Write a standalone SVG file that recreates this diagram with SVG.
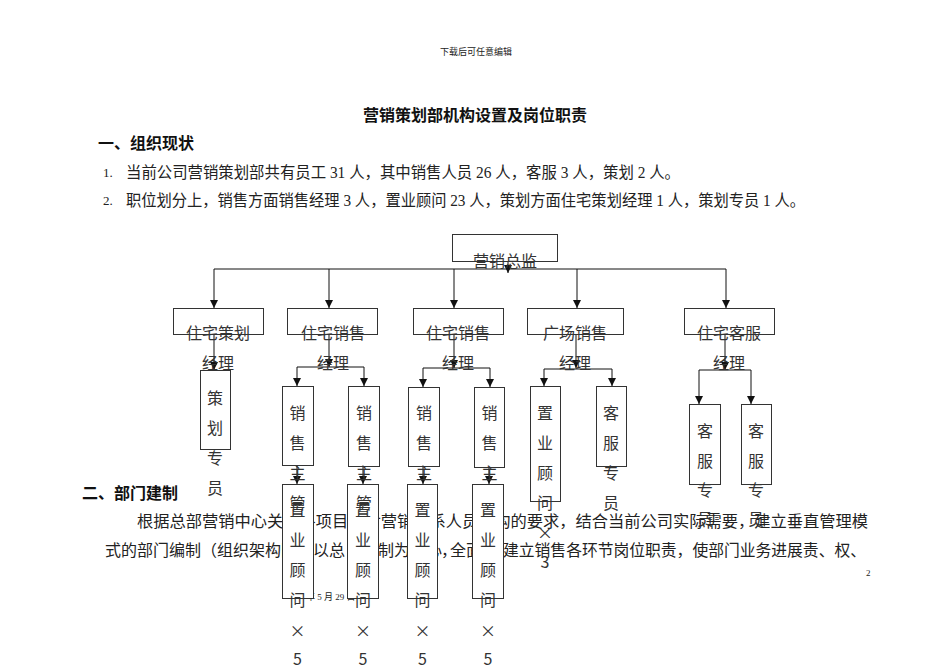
<svg xmlns="http://www.w3.org/2000/svg" width="950" height="672" viewBox="0 0 950 672">
<style>
.t{font-family:"Noto Sans CJK SC","Noto Sans",sans-serif;fill:#222}
.b{font-family:"Noto Sans CJK SC","Noto Sans",sans-serif;font-weight:bold;fill:#111}
.s{font-family:"Liberation Serif","Noto Sans CJK SC",serif;fill:#222}
.n{font-family:"Noto Sans CJK SC","Noto Sans",sans-serif;font-size:16px;fill:#333;text-anchor:middle}
.box{fill:#fff;stroke:#333;stroke-width:1}
.c{stroke:#111;stroke-width:1;fill:none}
.a{marker-end:url(#ah)}
</style>
<defs>
<marker id="ah" markerUnits="userSpaceOnUse" markerWidth="8" markerHeight="8" refX="8" refY="4" orient="auto">
<path d="M0,0 L8,4 L0,8 z" fill="#111"/>
</marker>
</defs>
<rect width="950" height="672" fill="#fff"/>

<g id="page-text">
<text class="s" x="476" y="55" font-size="9" text-anchor="middle">下载后可任意编辑</text>
<text class="b" x="475" y="121" font-size="16" text-anchor="middle">营销策划部机构设置及岗位职责</text>
<text class="b" x="98" y="149" font-size="16">一、组织现状</text>
<text class="s" x="103" y="177" font-size="13">1.</text>
<text class="s" x="126" y="178" font-size="16" textLength="554" lengthAdjust="spacingAndGlyphs">当前公司营销策划部共有员工 31 人，其中销售人员 26 人，客服 3 人，策划 2 人。</text>
<text class="s" x="103" y="205" font-size="13">2.</text>
<text class="s" x="126" y="206" font-size="16" textLength="679" lengthAdjust="spacingAndGlyphs">职位划分上，销售方面销售经理 3 人，置业顾问 23 人，策划方面住宅策划经理 1 人，策划专员 1 人。</text>
<text class="b" x="82" y="499" font-size="16">二、部门建制</text>
<text class="t" x="137" y="527" font-size="16" textLength="731" lengthAdjust="spacingAndGlyphs">根据总部营销中心关于各项目部对营销体系人员架构的要求，结合当前公司实际需要，建立垂直管理模</text>
<text class="t" y="556" font-size="16"><tspan x="105">式的部门编制（组织架构图）以总</tspan><tspan x="349" textLength="26" lengthAdjust="spacingAndGlyphs">监负责</tspan><tspan x="378">制为核心</tspan><tspan x="441">，</tspan><tspan x="450">全面</tspan><tspan x="503" textLength="363" lengthAdjust="spacingAndGlyphs">建立销售各环节岗位职责，使部门业务进展责、权、</tspan></text>
<text class="s" x="306" y="600" font-size="9">年 5 月 29 日</text>
<text class="s" x="866" y="576" font-size="9">2</text>
</g>

<g id="connectors">
<line class="c a" x1="508" y1="261" x2="508" y2="273"/>
<line class="c" x1="214" y1="269" x2="726" y2="269"/>
<line class="c a" x1="214" y1="269" x2="214" y2="308"/>
<line class="c a" x1="329" y1="269" x2="329" y2="308"/>
<line class="c a" x1="454" y1="269" x2="454" y2="308"/>
<line class="c a" x1="577" y1="269" x2="577" y2="308"/>
<line class="c a" x1="726" y1="269" x2="726" y2="308"/>
<line class="c a" x1="214" y1="335" x2="214" y2="370"/>
<line class="c a" x1="329" y1="335" x2="329" y2="367"/>
<line class="c" x1="297" y1="367" x2="364" y2="367"/>
<line class="c a" x1="297" y1="367" x2="297" y2="386"/>
<line class="c a" x1="364" y1="367" x2="364" y2="386"/>
<line class="c a" x1="454" y1="335" x2="454" y2="368"/>
<line class="c" x1="423" y1="368" x2="490" y2="368"/>
<line class="c a" x1="423" y1="368" x2="423" y2="387"/>
<line class="c a" x1="490" y1="368" x2="490" y2="387"/>
<line class="c a" x1="576" y1="335" x2="576" y2="368"/>
<line class="c" x1="544" y1="369" x2="612" y2="369"/>
<line class="c a" x1="544" y1="369" x2="544" y2="386"/>
<line class="c a" x1="612" y1="369" x2="612" y2="386"/>
<line class="c a" x1="725" y1="335" x2="725" y2="370"/>
<line class="c" x1="699" y1="370" x2="751" y2="370"/>
<line class="c a" x1="699" y1="370" x2="699" y2="404"/>
<line class="c a" x1="751" y1="370" x2="751" y2="404"/>
<line class="c a" x1="297" y1="466" x2="297" y2="484"/>
<line class="c a" x1="363" y1="466" x2="363" y2="484"/>
<line class="c a" x1="423" y1="467" x2="423" y2="484"/>
<line class="c a" x1="489" y1="467" x2="489" y2="484"/>
</g>

<g id="n-director">
<rect class="box" x="452.5" y="234.5" width="105" height="27"/>
<text class="n" x="505" y="267">营销总监</text>
</g>
<g id="n-plan-mgr">
<rect class="box" x="173.5" y="308.5" width="90" height="26"/>
<text class="n" x="218" y="339">住宅策划</text>
<text class="n" x="218" y="369">经理</text>
</g>
<g id="n-sales-mgr-1">
<rect class="box" x="287.5" y="308.5" width="90" height="26"/>
<text class="n" x="333" y="339">住宅销售</text>
<text class="n" x="333" y="369">经理</text>
</g>
<g id="n-sales-mgr-2">
<rect class="box" x="413.5" y="308.5" width="90" height="26"/>
<text class="n" x="458" y="339">住宅销售</text>
<text class="n" x="458" y="369">经理</text>
</g>
<g id="n-plaza-mgr">
<rect class="box" x="527.5" y="308.5" width="96" height="26"/>
<text class="n" x="575" y="339">广场销售</text>
<text class="n" x="575" y="369">经理</text>
</g>
<g id="n-cs-mgr">
<rect class="box" x="684.5" y="308.5" width="90" height="26"/>
<text class="n" x="729" y="339">住宅客服</text>
<text class="n" x="729" y="369">经理</text>
</g>

<g id="n-plan-staff">
<rect class="box" x="200.5" y="370.5" width="30" height="79"/>
<text class="n" x="215" y="404">策</text>
<text class="n" x="215" y="434">划</text>
<text class="n" x="215" y="464">专</text>
<text class="n" x="215" y="494">员</text>
</g>

<g id="n-consultant-1">
<rect class="box" x="282.5" y="484.5" width="31" height="114"/>
<text class="n" x="297.5" y="516">置</text>
<text class="n" x="297.5" y="546">业</text>
<text class="n" x="297.5" y="576">顾</text>
<text class="n" x="297.5" y="606">问</text>
<text class="n" x="297.5" y="637">×</text>
<text class="n" x="297.5" y="665">5</text>
</g>
<g id="n-consultant-2">
<rect class="box" x="347.5" y="484.5" width="31" height="114"/>
<text class="n" x="363" y="516">置</text>
<text class="n" x="363" y="546">业</text>
<text class="n" x="363" y="576">顾</text>
<text class="n" x="363" y="606">问</text>
<text class="n" x="363" y="637">×</text>
<text class="n" x="363" y="665">5</text>
</g>
<g id="n-sales-sup-1">
<rect class="box" x="282.5" y="386.5" width="31" height="79"/>
<text class="n" x="297.5" y="419">销</text>
<text class="n" x="297.5" y="449">售</text>
<text class="n" x="297.5" y="479">主</text>
<text class="n" x="297.5" y="509">管</text>
</g>
<g id="n-sales-sup-2">
<rect class="box" x="348.5" y="386.5" width="31" height="80"/>
<text class="n" x="364" y="419">销</text>
<text class="n" x="364" y="449">售</text>
<text class="n" x="364" y="479">主</text>
<text class="n" x="364" y="509">管</text>
</g>
<g id="n-sales-sup-3">
<rect class="box" x="408.5" y="387.5" width="31" height="79"/>
<text class="n" x="424" y="419">销</text>
<text class="n" x="424" y="449">售</text>
<text class="n" x="424" y="479">主</text>
<text class="n" x="424" y="509">管</text>
</g>
<g id="n-sales-sup-4">
<rect class="box" x="474.5" y="387.5" width="30" height="80"/>
<text class="n" x="489.5" y="419">销</text>
<text class="n" x="489.5" y="449">售</text>
<text class="n" x="489.5" y="479">主</text>
<text class="n" x="489.5" y="509">管</text>
</g>
<g id="n-consultant-3">
<rect class="box" x="407.5" y="484.5" width="30" height="114"/>
<text class="n" x="422.5" y="516">置</text>
<text class="n" x="422.5" y="546">业</text>
<text class="n" x="422.5" y="576">顾</text>
<text class="n" x="422.5" y="606">问</text>
<text class="n" x="422.5" y="637">×</text>
<text class="n" x="422.5" y="665">5</text>
</g>
<g id="n-consultant-4">
<rect class="box" x="472.5" y="484.5" width="31" height="114"/>
<text class="n" x="488" y="516">置</text>
<text class="n" x="488" y="546">业</text>
<text class="n" x="488" y="576">顾</text>
<text class="n" x="488" y="606">问</text>
<text class="n" x="488" y="637">×</text>
<text class="n" x="488" y="665">5</text>
</g>

<g id="n-plaza-consultant">
<rect class="box" x="530.5" y="386.5" width="30" height="115"/>
<text class="n" x="545" y="419">置</text>
<text class="n" x="545" y="449">业</text>
<text class="n" x="545" y="479">顾</text>
<text class="n" x="545" y="509">问</text>
<text class="n" x="545" y="539">×</text>
<text class="n" x="545" y="568">3</text>
</g>
<g id="n-plaza-cs">
<rect class="box" x="596.5" y="386.5" width="30" height="80"/>
<text class="n" x="611" y="419">客</text>
<text class="n" x="611" y="449">服</text>
<text class="n" x="611" y="479">专</text>
<text class="n" x="611" y="509">员</text>
</g>
<g id="n-cs-staff-1">
<rect class="box" x="689.5" y="404.5" width="31" height="80"/>
<text class="n" x="705" y="437">客</text>
<text class="n" x="705" y="467">服</text>
<text class="n" x="705" y="496">专</text>
<text class="n" x="705" y="525">员</text>
</g>
<g id="n-cs-staff-2">
<rect class="box" x="741.5" y="404.5" width="30" height="80"/>
<text class="n" x="756" y="437">客</text>
<text class="n" x="756" y="467">服</text>
<text class="n" x="756" y="496">专</text>
<text class="n" x="756" y="525">员</text>
</g>
</svg>
